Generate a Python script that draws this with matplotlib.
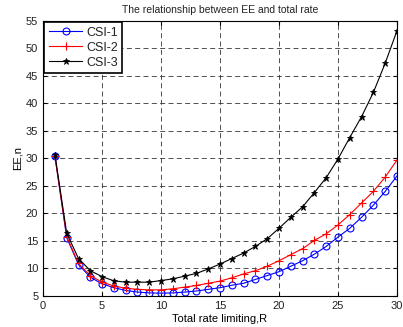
import numpy as np
import matplotlib.pyplot as plt

plt.rcParams['font.family'] = ['Liberation Sans', 'DejaVu Sans']
plt.rcParams['text.color'] = '#222222'
plt.rcParams['xtick.labelcolor'] = '#222222'
plt.rcParams['ytick.labelcolor'] = '#222222'

# Total rate limiting R
rate = list(range(1, 31))

ee_csi1 = [30.4, 15.6, 10.7, 8.4, 7.2, 6.5, 6.0, 5.7, 5.55, 5.5,
           5.55, 5.7, 5.9, 6.2, 6.5, 6.95, 7.3, 8.0, 8.7, 9.4,
           10.4, 11.4, 12.6, 14.0, 15.7, 17.3, 19.3, 21.5, 24.0, 26.8]
ee_csi2 = [30.5, 15.8, 10.9, 8.7, 7.5, 6.8, 6.4, 6.2, 6.1, 6.1,
           6.3, 6.6, 6.9, 7.3, 7.7, 8.3, 9.0, 9.6, 10.4, 11.4,
           12.5, 13.6, 15.1, 16.3, 17.9, 19.8, 21.9, 24.0, 26.6, 29.7]
ee_csi3 = [30.7, 16.4, 11.8, 9.6, 8.5, 7.75, 7.5, 7.5, 7.5, 7.8,
           8.1, 8.6, 9.1, 9.9, 10.8, 11.8, 12.8, 14.0, 15.4, 17.3,
           19.3, 21.2, 23.8, 26.5, 29.9, 33.8, 37.6, 42.0, 47.3, 53.2]

fig = plt.figure(figsize=(4.03, 3.27), dpi=100)
ax = fig.add_axes([0.107, 0.095, 0.878, 0.841])

ax.plot(rate, ee_csi1, color='blue', marker='o', markersize=5,
        markerfacecolor='none', markeredgewidth=0.8, linewidth=0.8, label='CSI-1')
ax.plot(rate, ee_csi2, color='red', marker='+', markersize=6,
        markeredgewidth=0.8, linewidth=0.8, label='CSI-2')
ax.plot(rate, ee_csi3, color='black', marker='*', markersize=4.5,
        markeredgewidth=0.6, linewidth=0.8, label='CSI-3')

ax.set_xlim(0, 30)
ax.set_ylim(5, 55)
ax.set_xticks(range(0, 31, 5))
ax.set_yticks(range(5, 56, 5))
ax.tick_params(direction='in', labelsize=8, length=3, top=True, right=True)
ax.grid(True, color='#333333', linestyle=(0, (6, 4)), linewidth=0.6)
for s in ax.spines.values():
    s.set_linewidth(0.8)

ax.set_title('The relationship between EE and total rate', fontsize=7.5, pad=6)
ax.set_xlabel('Total rate limiting,R', fontsize=8, labelpad=2)
ax.set_ylabel('EE,n', fontsize=8, labelpad=2)

leg = ax.legend(loc='upper left', fontsize=9, fancybox=False, framealpha=1,
                edgecolor='black', borderaxespad=0.1, handlelength=2.7,
                handletextpad=0.3, labelspacing=0.25, borderpad=0.35,
                numpoints=1)
leg.get_frame().set_linewidth(1.2)

fig.savefig('out.png', dpi=100)
